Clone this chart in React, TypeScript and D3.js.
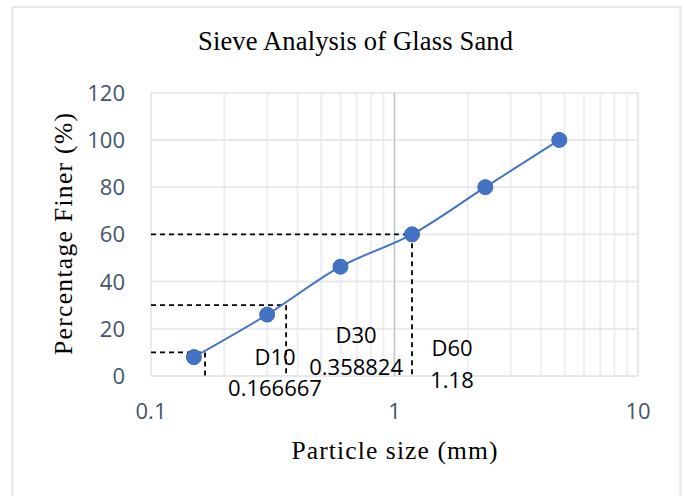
import React from "react";
import * as d3 from "d3";

// ---- data ----
const sizes = [0.15, 0.3, 0.6, 1.18, 2.36, 4.75];
const finer = [8, 26, 46.3, 60, 80, 100];
const dNames = ["D10", "D30", "D60"];
const dSizes = [0.166667, 0.358824, 1.18];
const dPercents = [10, 30, 60];
const yTicks = [0, 20, 40, 60, 80, 100, 120];
const xTicks = [0.1, 1, 10];
const title = "Sieve Analysis of Glass Sand";
const xTitle = "Particle size (mm)";
const yTitle = "Percentage Finer (%)";

// ---- layout ----
const W = 686;
const H = 496;
const plot = { left: 151, right: 638, top: 92.7, bottom: 376 };
// label offsets relative to the D point (dx to centre, dy to first baseline)
const labelOffsets = [
  { dx: 70, dy: 12.6 },
  { dx: 70, dy: 38 },
  { dx: 40, dy: 122 },
];

export default function App() {
  const x = d3.scaleLog().domain([0.1, 10]).range([plot.left, plot.right]);
  const y = d3.scaleLinear().domain([0, 120]).range([plot.bottom, plot.top]);

  const minor: number[] = [];
  for (const dec of [0.1, 1]) {
    for (let k = 2; k <= 9; k++) minor.push(dec * k);
  }

  const pts = sizes.map((s, i) => [x(s), y(finer[i])] as [number, number]);
  const line = d3.line().curve(d3.curveCatmullRom.alpha(0.5))(pts) || "";

  const tickColor = "#44546A";
  const gridColor = "#E6E9EE";
  const sans = "'Open Sans', sans-serif";
  const serif = "'Liberation Serif', serif";

  return (
    <svg
      width={W}
      height={H}
      style={{ position: "fixed", left: 0, top: 0, background: "#fff" }}
    >
      <rect x={0} y={0} width={W} height={H} fill="#fff" />
      {/* chart border */}
      <rect
        x={12.5}
        y={7}
        width={668}
        height={H + 20}
        fill="none"
        stroke="#E2E5EB"
        strokeWidth={2}
      />
      {/* minor vertical gridlines */}
      {minor.map((v) => (
        <line
          key={"m" + v}
          x1={x(v)}
          x2={x(v)}
          y1={plot.top}
          y2={plot.bottom}
          stroke="#EDEFF3"
          strokeWidth={2}
        />
      ))}
      {/* major vertical gridlines */}
      {xTicks.map((v) => (
        <line
          key={"xv" + v}
          x1={x(v)}
          x2={x(v)}
          y1={plot.top}
          y2={plot.bottom}
          stroke={gridColor}
          strokeWidth={2}
        />
      ))}
      {/* horizontal gridlines */}
      {yTicks.map((v) => (
        <line
          key={"h" + v}
          x1={plot.left}
          x2={plot.right}
          y1={y(v)}
          y2={y(v)}
          stroke={gridColor}
          strokeWidth={2}
        />
      ))}
      {/* vertical axis at x = 1 */}
      <line
        x1={x(1)}
        x2={x(1)}
        y1={plot.top}
        y2={plot.bottom}
        stroke="#BCC6D8"
        strokeWidth={1.3}
      />
      {/* dashed D lines */}
      {dSizes.map((s, i) => (
        <g key={"d" + i}>
          <line
            x1={plot.left}
            x2={x(s)}
            y1={y(dPercents[i])}
            y2={y(dPercents[i])}
            stroke="#000"
            strokeWidth={1.8}
            strokeDasharray="5,4"
          />
          <line
            x1={x(s)}
            x2={x(s)}
            y1={y(dPercents[i])}
            y2={y(0)}
            stroke="#000"
            strokeWidth={1.8}
            strokeDasharray="5,4"
          />
        </g>
      ))}
      {/* series */}
      <path d={line} fill="none" stroke="#4472C4" strokeWidth={2} />
      {pts.map((p, i) => (
        <circle
          key={"p" + i}
          cx={p[0]}
          cy={p[1]}
          r={7.5}
          fill="#4472C4"
          stroke="#3E69B5"
          strokeWidth={1}
        />
      ))}
      {/* D labels */}
      {dSizes.map((s, i) => {
        const cx = x(s) + labelOffsets[i].dx;
        const by = y(dPercents[i]) + labelOffsets[i].dy;
        return (
          <text
            key={"l" + i}
            textAnchor="middle"
            fontFamily={sans}
            fontSize={22}
            fill="#000"
          >
            <tspan x={cx} y={by}>
              {dNames[i]}
            </tspan>
            <tspan x={cx} y={by + 31.5}>
              {String(dSizes[i])}
            </tspan>
          </text>
        );
      })}
      {/* y tick labels */}
      {yTicks.map((v) => (
        <text
          key={"yt" + v}
          x={125}
          y={y(v) + 8}
          textAnchor="end"
          fontFamily={sans}
          fontSize={22}
          fill={tickColor}
        >
          {v}
        </text>
      ))}
      {/* x tick labels */}
      {xTicks.map((v) => (
        <text
          key={"xt" + v}
          x={x(v)}
          y={419}
          textAnchor="middle"
          fontFamily={sans}
          fontSize={22}
          fill={tickColor}
        >
          {v}
        </text>
      ))}
      {/* titles */}
      <text
        x={355.5}
        y={50}
        textAnchor="middle"
        fontFamily={serif}
        fontSize={26.5}
        fill="#000"
        textLength={315}
        lengthAdjust="spacing"
      >
        {title}
      </text>
      <text
        x={394.5}
        y={459}
        textAnchor="middle"
        fontFamily={serif}
        fontSize={25.5}
        fill="#000"
        textLength={206}
        lengthAdjust="spacing"
      >
        {xTitle}
      </text>
      <text
        transform={`translate(72,234) rotate(-90)`}
        textAnchor="middle"
        fontFamily={serif}
        fontSize={25.5}
        fill="#000"
        textLength={242}
        lengthAdjust="spacing"
      >
        {yTitle}
      </text>
    </svg>
  );
}
